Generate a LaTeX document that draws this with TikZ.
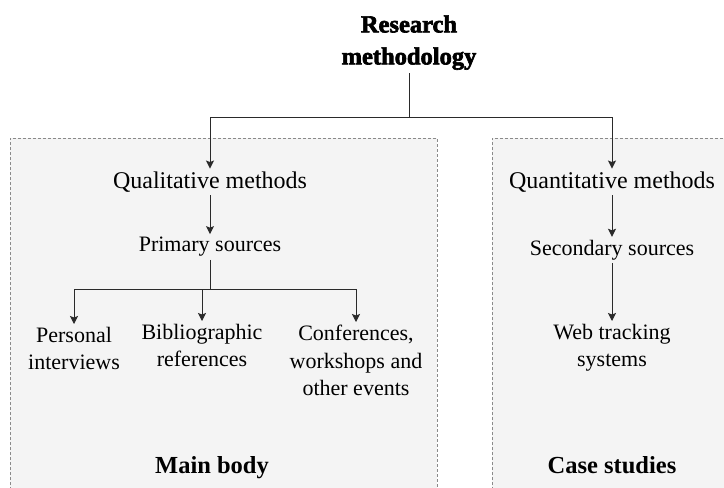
\documentclass[tikz,border=0pt]{standalone}
\usepackage{fontspec}
\setmainfont{Liberation Serif}
\usetikzlibrary{arrows.meta}
\definecolor{panelfill}{HTML}{F4F4F4}
\definecolor{panelline}{HTML}{8A8A8A}
\definecolor{linkcol}{HTML}{2A2A2A}
\begin{document}
\begin{tikzpicture}[x=1pt,y=-1pt,
  panel/.style={draw=panelline,fill=panelfill,dashed,dash pattern=on 3pt off 2pt,line width=0.6pt},
  heading/.style={font=\fontsize{24}{28}\selectfont,inner sep=3pt},
  item/.style={font=\fontsize{22}{27.5}\selectfont,align=center,inner sep=3pt},
  label/.style={font=\fontsize{24.5}{28}\selectfont\bfseries,anchor=base},
  titlebox/.style={font=\fontsize{24.5}{32}\selectfont\bfseries\addfontfeature{FakeBold=2.6},align=center,inner sep=3pt},
  link/.style={draw=linkcol,line width=1pt},
  arr/.style={link,-{Stealth[length=8pt,width=8pt,inset=1.5pt]}}]
\useasboundingbox (0,0) rectangle (724,488);

% the two panels run past the lower and right edges
\path[panel] (10,495) -- (10,138) -- (437,138) -- (437,495);
\path[panel] (492,495) -- (492,138) -- (735,138) -- (735,495);

% title and the split below it
\node[titlebox,anchor=south] (title) at (409,73) {Research\\methodology};
\coordinate (split) at (409,117);

% left panel
\node[heading] (qual) at (210,182) {Qualitative methods};
\node[item] (prim) at (210,247) {Primary sources};
\coordinate (fork) at (210,289);
\node[item,anchor=north] (pers) at (74,324) {Personal\\interviews};
\node[item,anchor=north] (bibl) at (202,321) {Bibliographic\\references};
\node[item,anchor=north] (conf) at (356,322) {Conferences,\\workshops and\\other events};
\node[label] (main) at (212,473) {Main body};

% right panel
\node[heading] (quant) at (612,182) {Quantitative methods};
\node[item] (sec) at (612,250) {Secondary sources};
\node[item,anchor=north] (web) at (612,321) {Web tracking\\systems};
\node[label] (case) at (612,473) {Case studies};

% connectors
\draw[link] (title.south) -- (split);
\draw[arr] (split) -| (qual.north);
\draw[arr] (split) -| (quant.north);
\draw[arr] (qual.south) -- (prim.north);
\draw[link] (prim.south) -- (fork);
\draw[arr] (fork) -| (pers.north);
\draw[arr] (fork) -| (bibl.north);
\draw[arr] (fork) -| (conf.north);
\draw[arr] (quant.south) -- (sec.north);
\draw[arr] (sec.south) -- (web.north);
\end{tikzpicture}
\end{document}
